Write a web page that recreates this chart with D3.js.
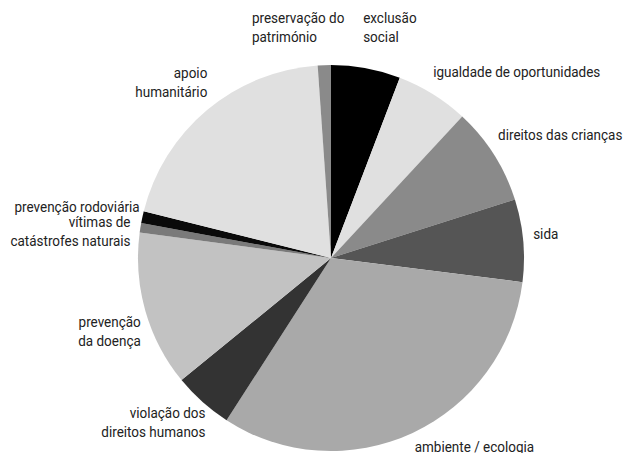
<!DOCTYPE html>
<html>
<head>
<meta charset="utf-8">
<script src="https://cdn.jsdelivr.net/npm/d3@7"></script>
<style>
  body { margin: 0; background: #fff; }
  text { font-family: "Roboto", "Liberation Sans", sans-serif; font-size: 15px; fill: #222; }
</style>
</head>
<body>
<div id="chart"></div>
<script>

// slices, clockwise from 12 o'clock
const categories = [
    "exclusão\nsocial",
    "igualdade de oportunidades",
    "direitos das crianças",
    "sida",
    "ambiente / ecologia",
    "violação dos\ndireitos humanos",
    "prevenção\nda doença",
    "vítimas de\ncatástrofes naturais",
    "prevenção rodoviária",
    "apoio\nhumanitário",
    "preservação do\npatrimónio"
];
const values = [5.8, 6.1, 8.2, 6.9, 32.1, 5.0, 13.0, 0.8, 1.0, 20.0, 1.1];
const colors = ["#000000", "#e0e0e0", "#8a8a8a", "#555555", "#a9a9a9", "#333333",
                "#c2c2c2", "#7a7a7a", "#0a0a0a", "#e0e0e0", "#8a8a8a"];

// label nudges so they sit where the original put them
const labelNudge = {
    "exclusão\nsocial": [-5, -29],
    "igualdade de oportunidades": [-6, -12],
    "direitos das crianças": [-6, -13],
    "sida": [-2, -6],
    "ambiente / ecologia": [-3, 3],
    "violação dos\ndireitos humanos": [11, 11],
    "prevenção\nda doença": [7, 17],
    "vítimas de\ncatástrofes naturais": [2, 5],
    "prevenção rodoviária": [9, -8],
    "apoio\nhumanitário": [8, -19],
    "preservação do\npatrimónio": [-72, -26]
};
// the top-left label is left aligned in the original
const labelAnchor = { "preservação do\npatrimónio": "start" };

let width = 625, height = 453;
let cx = 331, cy = 258, radius = 193;
let labelRadius = 205;
let lineHeight = 19;
let squeeze = 0.9;   // the original uses a condensed face

let svg = d3.select("#chart").append("svg")
    .attr("width", width)
    .attr("height", height);

let g = svg.append("g")
    .attr("transform", `translate(${cx}, ${cy})`);

let pie = d3.pie()
    .sort(null)
    .value(d => d.value);

let arc = d3.arc()
    .innerRadius(0)
    .outerRadius(radius);

let table = categories.map((c, i) => ({ name: c, value: values[i], color: colors[i] }));
let arcs = pie(table);

g.selectAll("path.slice")
    .data(arcs)
    .enter().append("path")
    .attr("class", "slice")
    .attr("d", arc)
    .attr("fill", d => d.data.color);

g.selectAll("text.label")
    .data(arcs)
    .enter().append("text")
    .attr("class", "label")
    .each(function(d) {
        let a = (d.startAngle + d.endAngle) / 2;
        let nudge = labelNudge[d.data.name] || [0, 0];
        let x = labelRadius * Math.sin(a) + nudge[0];
        let y = -labelRadius * Math.cos(a) + nudge[1];
        let lines = d.data.name.split("\n");
        let anchor = labelAnchor[d.data.name] || (Math.sin(a) >= 0 ? "start" : "end");
        let el = d3.select(this)
            .attr("transform", `translate(${x}, ${y}) scale(${squeeze}, 1)`)
            .attr("text-anchor", anchor);
        lines.forEach(function(line, i) {
            el.append("tspan")
                .attr("x", 0)
                .attr("y", (i - (lines.length - 1) / 2) * lineHeight)
                .attr("dy", "0.35em")
                .text(line);
        });
    });

</script>
</body>
</html>
